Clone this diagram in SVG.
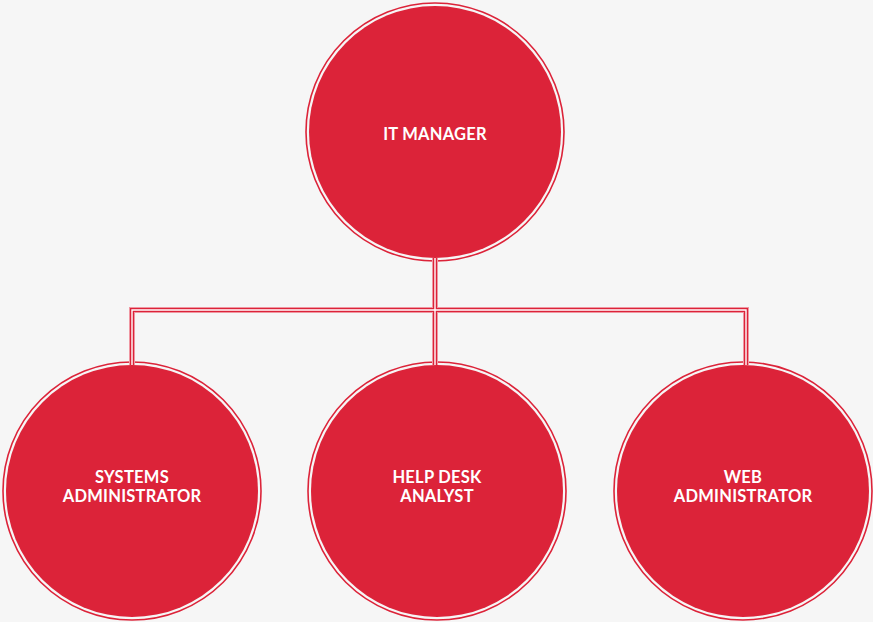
<svg xmlns="http://www.w3.org/2000/svg" width="873" height="622" viewBox="0 0 873 622">
<style>
.ring{fill:none;stroke:#dc2339;stroke-width:1.6}
.fill{fill:#dc2339}
.lbl{font-family:Lato,"Open Sans",sans-serif;font-weight:bold;font-size:16.5px;letter-spacing:0.25px;fill:#ffffff;text-anchor:middle}
.c1{fill:none;stroke:#ef97a2;stroke-width:6}
.c2{fill:none;stroke:#dc2339;stroke-width:4}
.c3{fill:none;stroke:#ffffff;stroke-width:1.4}
</style>
<rect width="873" height="622" fill="#f6f6f6"/>
<g id="it-manager">
<circle class="ring" cx="435" cy="132" r="129"/>
<circle class="fill" cx="435" cy="132" r="126"/>
<text class="lbl" x="435" y="140">IT MANAGER</text>
</g>
<g id="systems-administrator">
<circle class="ring" cx="132" cy="491" r="129"/>
<circle class="fill" cx="132" cy="491" r="126"/>
<text class="lbl" x="132" y="483">SYSTEMS</text>
<text class="lbl" x="132" y="502">ADMINISTRATOR</text>
</g>
<g id="help-desk-analyst">
<circle class="ring" cx="437" cy="491" r="129"/>
<circle class="fill" cx="437" cy="491" r="126"/>
<text class="lbl" x="437" y="483">HELP DESK</text>
<text class="lbl" x="437" y="502">ANALYST</text>
</g>
<g id="web-administrator">
<circle class="ring" cx="743" cy="491" r="129"/>
<circle class="fill" cx="743" cy="491" r="126"/>
<text class="lbl" x="743" y="483">WEB</text>
<text class="lbl" x="743" y="502">ADMINISTRATOR</text>
</g>
<g id="connectors">
<path class="c1" d="M435 258V365M132 365V310H746V365"/>
<path class="c2" d="M435 258V365M132 365V310H746V365"/>
<path class="c3" d="M435 258V365M132 365V310H746V365"/>
</g>
</svg>
